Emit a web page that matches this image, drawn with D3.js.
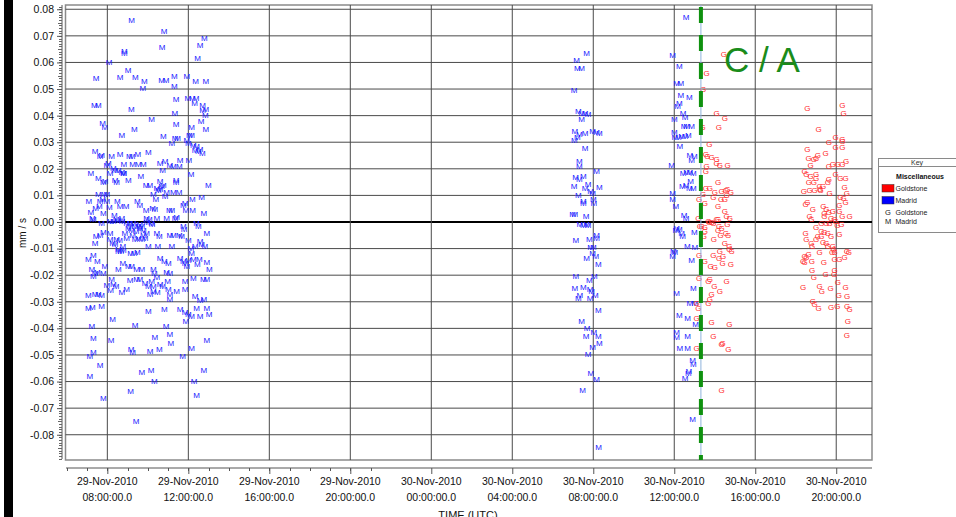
<!DOCTYPE html>
<html><head><meta charset="utf-8">
<script src="https://cdn.jsdelivr.net/npm/d3@7"></script>
<style>
html,body{margin:0;padding:0;background:#fff;}
svg{display:block;font-family:"Liberation Sans",Arial,sans-serif;}
</style></head><body>
<svg id="chart" width="956" height="517"></svg>
<script>
// ---- DATA: [hours since 29-Nov-2010 00:00 UTC, velocity residual mm/s] ----
const madrid = [
[9.20,0.0759],[10.80,0.0719],[12.79,0.0690],[12.58,0.0663],[8.84,0.0643],[8.84,0.0636],[10.70,0.0656],[12.46,0.0616],[8.08,0.0600],[9.02,0.0571],
[7.44,0.0540],[8.63,0.0546],[9.38,0.0543],[9.83,0.0529],[9.75,0.0505],[10.68,0.0534],[10.90,0.0534],[11.31,0.0550],[11.31,0.0511],[11.92,0.0550],
[12.36,0.0528],[12.87,0.0528],[7.36,0.0440],[7.56,0.0440],[9.19,0.0423],[11.39,0.0461],[11.97,0.0464],[12.20,0.0464],[12.38,0.0464],[12.31,0.0446],
[12.71,0.0440],[12.71,0.0421],[12.86,0.0425],[11.33,0.0411],[12.84,0.0403],[10.19,0.0386],[7.77,0.0373],[7.87,0.0355],[9.33,0.0349],[11.39,0.0368],
[12.16,0.0356],[12.63,0.0378],[12.86,0.0350],[8.71,0.0326],[10.77,0.0321],[11.18,0.0296],[11.34,0.0315],[11.47,0.0315],[11.92,0.0309],[12.05,0.0328],
[12.16,0.0328],[12.00,0.0296],[12.25,0.0290],[12.41,0.0284],[12.33,0.0269],[12.58,0.0275],[12.69,0.0259],[12.49,0.0265],[7.39,0.0268],[7.64,0.0246],
[7.72,0.0253],[8.21,0.0246],[8.05,0.0221],[7.97,0.0215],[8.63,0.0255],[9.09,0.0249],[9.22,0.0249],[9.51,0.0256],[10.02,0.0263],[8.82,0.0219],
[9.25,0.0219],[9.53,0.0219],[9.78,0.0219],[8.30,0.0203],[8.38,0.0193],[8.54,0.0193],[8.71,0.0188],[8.82,0.0184],[10.60,0.0221],[10.85,0.0228],
[11.09,0.0215],[11.26,0.0209],[11.56,0.0209],[11.59,0.0231],[12.03,0.0231],[10.73,0.0193],[7.19,0.0184],[7.56,0.0163],[7.80,0.0150],[7.89,0.0153],
[8.13,0.0184],[8.38,0.0159],[8.46,0.0150],[8.79,0.0184],[9.04,0.0159],[9.65,0.0171],[9.91,0.0140],[10.10,0.0140],[10.60,0.0153],[10.68,0.0134],
[10.77,0.0140],[11.39,0.0159],[11.39,0.0150],[12.13,0.0181],[12.99,0.0140],[10.44,0.0128],[10.52,0.0121],[10.60,0.0124],[10.27,0.0105],[10.40,0.0086],
[10.93,0.0111],[11.26,0.0111],[11.54,0.0113],[10.85,0.0096],[7.56,0.0105],[7.84,0.0105],[7.97,0.0105],[7.08,0.0080],[7.64,0.0080],[7.77,0.0084],
[7.97,0.0080],[8.49,0.0080],[8.92,0.0061],[8.63,0.0061],[7.61,0.0059],[8.10,0.0056],[9.48,0.0080],[9.61,0.0065],[9.91,0.0046],[10.24,0.0053],
[10.35,0.0049],[11.06,0.0046],[11.18,0.0043],[11.75,0.0065],[11.84,0.0071],[11.88,0.0044],[12.21,0.0044],[12.20,0.0084],[12.66,0.0093],[12.77,0.0034],
[7.18,0.0036],[7.26,0.0013],[7.80,0.0034],[7.42,0.0053],[8.35,0.0024],[8.71,0.0015],[8.43,0.0009],[9.94,0.0015],[10.07,0.0009],[10.44,0.0015],
[10.93,0.0013],[11.42,0.0019],[11.34,0.0013],
[7.72,-0.0006],[8.13,0.0003],[9.12,-0.0006],[9.37,-0.0016],[9.53,-0.0016],[9.70,-0.0016],[10.19,-0.0004],[7.31,0.0009],[8.30,0.0003],[8.52,0.0006],
[8.73,0.0003],[8.95,-0.0004],[9.12,-0.0016],[9.28,-0.0004],[9.61,-0.0010],[9.94,-0.0001],[10.21,-0.0010],[12.41,-0.0004],[12.49,-0.0016],[11.75,-0.0016],
[9.04,-0.0023],[9.20,-0.0029],[9.42,-0.0035],[9.61,-0.0023],[9.78,-0.0029],[8.46,-0.0066],[8.60,-0.0070],
[7.80,-0.0039],[7.64,-0.0048],[7.44,-0.0054],[8.13,-0.0041],[7.39,-0.0079],[8.13,-0.0066],[8.26,-0.0079],[8.38,-0.0085],[8.54,-0.0101],[8.67,-0.0110],
[8.79,-0.0106],[8.76,-0.0091],[8.87,-0.0041],[8.95,-0.0060],[9.25,-0.0051],[9.37,-0.0066],[9.53,-0.0060],[9.70,-0.0066],[9.78,-0.0051],[9.86,-0.0060],
[9.94,-0.0044],[10.44,-0.0044],[10.57,-0.0054],[11.09,-0.0048],[11.26,-0.0048],[11.56,-0.0048],[11.67,-0.0054],[10.02,-0.0091],[10.49,-0.0091],[11.18,-0.0091],
[11.79,-0.0026],[12.00,-0.0069],[12.12,-0.0098],[12.33,-0.0091],[12.58,-0.0073],[12.91,-0.0044],[12.82,-0.0091],[12.66,-0.0085],[9.15,-0.0116],[9.32,-0.0116],
[9.48,-0.0114],[8.54,-0.0108],[7.06,-0.0139],[7.31,-0.0126],[7.51,-0.0148],[7.23,-0.0179],[7.39,-0.0191],[7.51,-0.0189],[7.80,-0.0191],[7.88,-0.0166],
[8.54,-0.0179],[8.76,-0.0154],[9.04,-0.0166],[9.20,-0.0166],[9.45,-0.0179],[9.70,-0.0176],[10.27,-0.0176],[10.32,-0.0191],[10.60,-0.0135],[10.81,-0.0148],
[11.01,-0.0154],[10.93,-0.0189],[11.09,-0.0191],[11.59,-0.0135],[11.75,-0.0148],[11.84,-0.0154],[12.00,-0.0144],[11.92,-0.0166],[12.16,-0.0116],[12.25,-0.0141],
[12.44,-0.0160],[12.54,-0.0141],[12.91,-0.0151],[13.04,-0.0179],[7.31,-0.0204],[7.97,-0.0238],[8.21,-0.0216],[8.30,-0.0235],[8.16,-0.0258],[8.43,-0.0241],
[8.71,-0.0264],[8.95,-0.0254],[9.12,-0.0219],[9.45,-0.0216],[9.61,-0.0216],[9.86,-0.0229],[10.02,-0.0241],[10.19,-0.0223],[10.27,-0.0241],[10.44,-0.0206],
[10.60,-0.0235],[10.73,-0.0241],[10.11,-0.0273],[10.27,-0.0260],[10.47,-0.0264],[10.98,-0.0223],[11.01,-0.0254],[11.09,-0.0273],[11.42,-0.0260],[11.84,-0.0254],
[11.84,-0.0223],[12.25,-0.0210],[12.74,-0.0216],[12.91,-0.0216],[11.09,-0.0291],[7.06,-0.0276],[7.39,-0.0273],[7.56,-0.0273],[7.72,-0.0276],[7.06,-0.0323],
[7.26,-0.0320],[7.72,-0.0316],[8.26,-0.0364],[9.37,-0.0389],[10.02,-0.0335],[10.81,-0.0329],[11.59,-0.0329],[11.84,-0.0341],[12.00,-0.0348],[12.16,-0.0354],
[11.88,-0.0373],[12.41,-0.0323],[12.58,-0.0354],[12.91,-0.0323],[13.02,-0.0348],[12.33,-0.0279],[12.58,-0.0294],[12.77,-0.0289],[7.23,-0.0391],[10.90,-0.0391],
[7.31,-0.0438],[8.18,-0.0445],[10.35,-0.0435],[11.09,-0.0423],[11.13,-0.0454],[12.91,-0.0444],[9.17,-0.0479],[9.25,-0.0491],[10.11,-0.0485],[10.57,-0.0479],
[12.16,-0.0476],[11.72,-0.0504],[7.14,-0.0504],[7.31,-0.0491],[7.64,-0.0538],[7.14,-0.0579],[9.70,-0.0564],[10.16,-0.0558],[10.32,-0.0600],[12.77,-0.0558],
[12.28,-0.0600],[9.15,-0.0635],[7.80,-0.0663],[12.41,-0.0650],[9.42,-0.0748],
// 30-Nov morning pass
[31.67,0.0634],[31.18,0.0609],[31.21,0.0577],[31.42,0.0577],[31.05,0.0495],[31.26,0.0417],[31.42,0.0411],[31.59,0.0408],[31.75,0.0405],[31.42,0.0388],
[31.09,0.0342],[31.31,0.0332],[31.21,0.0319],[31.06,0.0307],[31.59,0.0335],[31.97,0.0342],[32.16,0.0338],[32.30,0.0335],[31.59,0.0279],[31.31,0.0229],
[31.31,0.0210],[32.16,0.0191],[31.13,0.0168],[31.31,0.0160],[31.51,0.0172],[31.05,0.0134],[31.59,0.0128],[31.75,0.0141],[31.87,0.0116],[32.30,0.0131],
[31.97,0.0107],[31.26,0.0099],[31.51,0.0072],[31.51,0.0080],[32.00,0.0084],[32.03,0.0072],[30.98,0.0028],[31.09,0.0028],[31.64,0.0021],[31.34,-0.0010],
[31.51,-0.0011],[31.67,-0.0010],[31.75,-0.0013],[31.14,-0.0067],[31.80,-0.0063],[32.16,-0.0048],[32.16,-0.0060],[31.87,-0.0094],[32.00,-0.0094],[31.67,-0.0136],
[31.97,-0.0119],[32.13,-0.0127],[32.25,-0.0157],[31.14,-0.0202],[31.80,-0.0220],[32.05,-0.0202],[31.09,-0.0249],[31.51,-0.0245],[31.34,-0.0274],[31.84,-0.0253],
[31.26,-0.0286],[31.84,-0.0286],[32.10,-0.0277],[31.92,-0.0261],[32.25,-0.0333],[31.42,-0.0374],[31.70,-0.0399],[31.64,-0.0431],[32.03,-0.0416],[32.25,-0.0431],
[32.30,-0.0454],[31.97,-0.0469],[31.75,-0.0496],[31.88,-0.0569],[32.16,-0.0592],[31.47,-0.0634],[32.26,-0.0845],
// 30-Nov midday pass
[36.58,0.0771],[35.92,0.0628],[36.25,0.0586],[36.12,0.0521],[36.33,0.0521],[36.33,0.0478],[36.74,0.0469],[36.16,0.0436],[36.25,0.0446],[36.44,0.0409],
[36.00,0.0386],[36.53,0.0394],[36.49,0.0359],[36.61,0.0359],[36.86,0.0359],[36.00,0.0336],[36.03,0.0319],[36.20,0.0318],[36.36,0.0321],[36.53,0.0321],
[36.69,0.0328],[36.28,0.0284],[36.77,0.0253],[36.99,0.0246],[36.86,0.0234],[35.87,0.0213],[36.44,0.0184],[36.61,0.0186],[36.77,0.0188],[36.94,0.0184],
[36.40,0.0134],[36.58,0.0140],[36.74,0.0128],[36.94,0.0128],[36.81,0.0153],[35.92,0.0109],[35.92,0.0084],[36.08,0.0059],[36.49,0.0024],[36.58,0.0015],
[36.12,-0.0023],[36.08,-0.0029],[36.25,-0.0026],[36.36,-0.0041],[36.41,-0.0054],[36.99,-0.0039],[35.95,-0.0110],[36.03,-0.0114],[35.92,-0.0129],[36.64,-0.0091],
[37.02,-0.0094],[36.86,-0.0144],[36.94,-0.0248],[36.12,-0.0269],[36.77,-0.0306],[37.02,-0.0306],[36.25,-0.0351],[36.66,-0.0360],[37.05,-0.0385],[36.12,-0.0416],
[36.12,-0.0435],[36.66,-0.0429],[36.28,-0.0476],[36.66,-0.0476],[36.91,-0.0519],[36.94,-0.0535],[36.72,-0.0560],[36.69,-0.0569],[36.53,-0.0589],[36.91,-0.0741]
];
const goldstone = [
[38.45,0.0630],[37.60,0.0559],[37.43,0.0499],[38.09,0.0411],[38.50,0.0390],[38.20,0.0356],[37.40,0.0355],[37.73,0.0294],[37.56,0.0256],[37.63,0.0246],
[37.84,0.0244],[38.09,0.0236],[38.25,0.0215],[38.63,0.0215],[38.09,0.0221],[37.60,0.0209],[37.56,0.0190],[38.17,0.0149],[38.62,0.0124],[37.56,0.0128],
[37.76,0.0128],[38.01,0.0111],[38.34,0.0115],[38.55,0.0119],[38.80,0.0111],[37.43,0.0103],[37.93,0.0094],[38.31,0.0086],[38.50,0.0086],[38.58,0.0099],
[37.23,0.0084],[37.51,0.0071],[38.17,0.0059],[38.50,0.0040],[38.75,0.0015],[38.58,0.0021],[37.19,0.0015],[37.35,-0.0016],[37.68,0.0003],[37.84,-0.0001],
[38.09,0.0009],[38.22,-0.0016],[37.27,-0.0014],[37.51,-0.0019],[37.73,-0.0001],[37.93,-0.0004],[38.17,0.0009],[38.34,-0.0023],[38.62,-0.0010],[37.51,-0.0035],
[37.46,-0.0054],[38.17,-0.0029],[38.29,-0.0051],[38.55,-0.0041],[38.66,-0.0051],[37.96,-0.0066],[38.50,-0.0079],[38.72,-0.0091],[38.83,-0.0110],[38.72,-0.0101],
[37.23,-0.0123],[37.51,-0.0148],[37.93,-0.0123],[38.25,-0.0110],[38.41,-0.0129],[37.79,-0.0166],[38.00,-0.0170],[38.39,-0.0156],[38.79,-0.0160],[38.22,-0.0135],
[37.23,-0.0210],[37.68,-0.0223],[37.76,-0.0214],[37.98,-0.0241],[38.58,-0.0223],[38.25,-0.0260],[37.84,-0.0273],[37.76,-0.0291],[37.68,-0.0306],[37.10,-0.0304],
[37.19,-0.0326],[37.10,-0.0360],[37.84,-0.0376],[38.72,-0.0385],[37.93,-0.0429],[38.39,-0.0454],[38.34,-0.0460],[38.67,-0.0479],[37.10,-0.0473],[38.34,-0.0631],
// 30-Nov evening pass
[42.57,0.0429],[44.30,0.0441],[44.36,0.0408],[43.13,0.0348],[43.64,0.0300],[43.97,0.0319],[44.30,0.0310],[44.30,0.0304],[43.97,0.0283],[44.30,0.0283],
[42.57,0.0273],[43.47,0.0258],[43.09,0.0250],[43.01,0.0241],[42.90,0.0235],[42.63,0.0241],[42.73,0.0213],[43.64,0.0208],[43.84,0.0216],[44.08,0.0219],
[44.30,0.0216],[44.49,0.0229],[42.44,0.0191],[42.53,0.0181],[42.73,0.0173],[43.01,0.0179],[43.01,0.0166],[42.65,0.0150],[42.90,0.0150],[43.18,0.0135],
[43.35,0.0135],[43.21,0.0123],[43.59,0.0148],[43.64,0.0160],[43.97,0.0179],[44.20,0.0166],[44.46,0.0164],[42.40,0.0116],[42.68,0.0119],[42.93,0.0119],
[43.23,0.0119],[43.67,0.0108],[44.41,0.0129],[44.53,0.0110],[44.20,0.0095],[44.36,0.0088],[44.46,0.0073],[44.16,0.0063],[42.49,0.0066],[42.57,0.0073],
[42.85,0.0048],[43.37,0.0058],[43.51,0.0048],[43.64,0.0038],[43.84,0.0041],[43.42,0.0033],[44.16,0.0041],[44.30,0.0023],[44.66,0.0020],[42.69,0.0020],
[42.77,0.0010],[43.26,-0.0005],[43.51,-0.0003],[43.67,-0.0005],[43.97,0.0004],[44.05,-0.0011],[44.25,-0.0009],[43.42,0.0023],[43.75,0.0013],[43.92,0.0010],
[43.01,-0.0021],[43.26,-0.0034],[43.42,-0.0038],[43.09,-0.0053],[43.59,-0.0043],[43.75,-0.0053],[44.16,-0.0046],[42.49,-0.0043],[42.53,-0.0063],[43.01,-0.0065],
[43.26,-0.0053],[42.77,-0.0078],[42.81,-0.0090],[43.18,-0.0115],[43.35,-0.0075],[43.51,-0.0078],[43.59,-0.0090],[43.84,-0.0090],[43.87,-0.0103],[43.92,-0.0115],
[43.80,-0.0113],[44.53,-0.0109],[44.63,-0.0113],[44.16,-0.0140],[44.41,-0.0134],[43.92,-0.0140],[42.44,-0.0128],[42.53,-0.0134],[42.36,-0.0146],[42.44,-0.0153],
[42.80,-0.0146],[42.63,-0.0121],[43.39,-0.0150],[42.81,-0.0180],[42.90,-0.0209],[43.47,-0.0196],[43.89,-0.0196],[43.92,-0.0180],[44.08,-0.0225],[42.36,-0.0246],
[43.18,-0.0240],[43.29,-0.0259],[43.72,-0.0250],[44.46,-0.0246],[44.13,-0.0275],[44.54,-0.0280],[42.85,-0.0296],[42.93,-0.0309],[43.13,-0.0324],[43.75,-0.0320],
[44.05,-0.0318],[44.54,-0.0315],[44.66,-0.0328],[44.58,-0.0374],[44.53,-0.0425]
];
const closestApproach = "2010-11-30T13:19:00Z";
const caLabel = "C / A";
const yTickValues = [-0.08,-0.07,-0.06,-0.05,-0.04,-0.03,-0.02,-0.01,0,0.01,0.02,0.03,0.04,0.05,0.06,0.07,0.08];
const xAxisTitle = "TIME (UTC)";
const yAxisTitle = "mm / s";
const legendTitle = "Key";
const legendGroup = "Miscellaneous";
const legendItems = [
  {type:"swatch", label:"Goldstone", color:"#ff0000"},
  {type:"swatch", label:"Madrid", color:"#0000ff"},
  {type:"symbol", symbol:"G", label:"Goldstone"},
  {type:"symbol", symbol:"M", label:"Madrid"}
];

// ---- CHART ----
const svg = d3.select("#chart");
const base = Date.UTC(2010,10,29);
const toDate = h => new Date(base + h*3600e3);
const L = 65.5, R = 872, T = 5, B = 460;
const x = d3.scaleUtc()
  .domain([new Date(Date.UTC(2010,10,29,5,56)), new Date(Date.UTC(2010,10,30,21,46))])
  .range([L, R]);
const y = d3.scaleLinear().domain([-0.0895, 0.0816]).range([B, T]);

svg.append("rect").attr("width",956).attr("height",517).attr("fill","#fff");
svg.append("rect").attr("x",4).attr("y",0).attr("width",9).attr("height",517).attr("fill","#000");

// plot frame
svg.append("rect").attr("x",L).attr("y",T).attr("width",R-L).attr("height",B-T)
  .attr("fill","#fff").attr("stroke","#8a8a8a").attr("stroke-width",1.5);

const majorX = d3.utcHour.every(4).range(toDate(8), toDate(44.5));
const g = svg.append("g");
// grid
g.selectAll(".hg").data(yTickValues).join("line")
  .attr("x1",L).attr("x2",R).attr("y1",d=>y(d)).attr("y2",d=>y(d))
  .attr("stroke", d=> d===0 ? "#000" : "#4a4a4a").attr("stroke-width", d=> d===0 ? 2 : 1);
g.selectAll(".vg").data(majorX).join("line")
  .attr("x1",d=>x(d)).attr("x2",d=>x(d)).attr("y1",T).attr("y2",B)
  .attr("stroke","#4a4a4a").attr("stroke-width",1);

// data markers
const pts = svg.append("g").attr("font-size","8px").attr("text-anchor","middle");
pts.selectAll(".m").data(madrid).join("text")
  .attr("x",d=>x(toDate(d[0]))).attr("y",d=>y(d[1])).attr("dy","0.35em")
  .attr("fill","#1a1aff").text("M");
pts.selectAll(".gs").data(goldstone).join("text")
  .attr("x",d=>x(toDate(d[0]))).attr("y",d=>y(d[1])).attr("dy","0.35em")
  .attr("fill","#ff2a2a").text("G");

// closest approach line
const ca = new Date(closestApproach);
svg.append("line").attr("x1",x(ca)).attr("x2",x(ca)).attr("y1",T).attr("y2",B)
  .attr("stroke","#8fb3dc").attr("stroke-width",1);
svg.append("line").attr("x1",x(ca)).attr("x2",x(ca)).attr("y1",T+2).attr("y2",B)
  .attr("stroke","#0f910f").attr("stroke-width",4).attr("stroke-dasharray","16,12");
svg.append("text").attr("x",x(ca)+23).attr("y",72).attr("fill","#1a8c1a")
  .attr("font-size","35px").text(caLabel);

// y axis
const yAxisG = svg.append("g").attr("transform","translate(62,0)");
yAxisG.append("line").attr("x1",0).attr("x2",0).attr("y1",T).attr("y2",B-1).attr("stroke","#555");
const minorY = d3.range(-89, 82).map(i => i/1000);
yAxisG.selectAll(".ym").data(minorY).join("line")
  .attr("x1",d=> (Math.abs(Math.round(d*1000))%10===5) ? -4 : -3).attr("x2",0)
  .attr("y1",d=>Math.round(y(d))+0.5).attr("y2",d=>Math.round(y(d))+0.5).attr("stroke","#666");
const yAx = d3.axisLeft(y).tickValues(yTickValues).tickSize(5).tickPadding(3)
  .tickFormat(d => (Math.round(d*100)/100).toFixed(2));
const yA = yAxisG.append("g").call(yAx);
yA.select(".domain").remove();
yA.selectAll("line").attr("stroke","#555");
yA.selectAll("text").attr("font-size","10.5px").attr("fill","#111").attr("font-family","Liberation Sans, Arial, sans-serif");

svg.append("text").attr("transform","translate(26,233) rotate(-90)")
  .attr("text-anchor","middle").attr("font-size","10px").attr("fill","#111").text(yAxisTitle);

// x axis
const xAxisG = svg.append("g").attr("transform","translate(0,468)");
xAxisG.append("line").attr("x1",66).attr("x2",R).attr("y1",0).attr("y2",0).attr("stroke","#555");
const minorX = d3.utcHour.every(1).range(toDate(6), toDate(21.9));
xAxisG.selectAll(".xm").data(minorX).join("line")
  .attr("x1",d=>Math.round(x(d))+0.5).attr("x2",d=>Math.round(x(d))+0.5).attr("y1",0).attr("y2",3).attr("stroke","#555");
const xAx = d3.axisBottom(x).tickValues(majorX).tickSize(6).tickFormat("");
const xA = xAxisG.append("g").call(xAx);
xA.select(".domain").remove();
xA.selectAll("line").attr("stroke","#555");
const f1 = d3.utcFormat("%d-%b-%Y"), f2 = d3.utcFormat("%H:%M:%S.0");
const lab = xAxisG.selectAll(".xl").data(majorX).join("text")
  .attr("text-anchor","middle").attr("font-size","10.5px").attr("fill","#111");
lab.append("tspan").attr("x",d=>x(d)).attr("y",17).text(d=>f1(d));
lab.append("tspan").attr("x",d=>x(d)).attr("y",33).text(d=>f2(d));

svg.append("text").attr("x",468).attr("y",519).attr("text-anchor","middle")
  .attr("font-size","11px").attr("fill","#111").text(xAxisTitle);

// legend
const lg = svg.append("g");
lg.append("rect").attr("x",878.5).attr("y",158.5).attr("width",90).attr("height",74)
  .attr("fill","#fff").attr("stroke","#8a8a8a");
lg.append("line").attr("x1",878.5).attr("x2",960).attr("y1",166.5).attr("y2",166.5).attr("stroke","#8a8a8a");
lg.append("text").attr("x",917).attr("y",165).attr("text-anchor","middle").attr("font-size","7px").attr("fill","#333").text(legendTitle);
lg.append("text").attr("x",920).attr("y",178.5).attr("text-anchor","middle").attr("font-size","7px")
  .attr("font-weight","bold").attr("fill","#111").text(legendGroup);
const rowY = [188.5, 200.5, 212.5, 221.5];
legendItems.forEach((it,i) => {
  if (it.type === "swatch") {
    lg.append("rect").attr("x",882).attr("y",rowY[i]-4).attr("width",12).attr("height",7.5)
      .attr("fill",it.color).attr("stroke","#333").attr("stroke-width",0.5);
  } else {
    lg.append("text").attr("x",888).attr("y",rowY[i]+2.5).attr("text-anchor","middle")
      .attr("font-size","7.5px").attr("fill","#222").text(it.symbol);
  }
  lg.append("text").attr("x",895.5).attr("y",rowY[i]+2.5).attr("font-size","7px").attr("fill","#222").text(it.label);
});
</script>
</body></html>
